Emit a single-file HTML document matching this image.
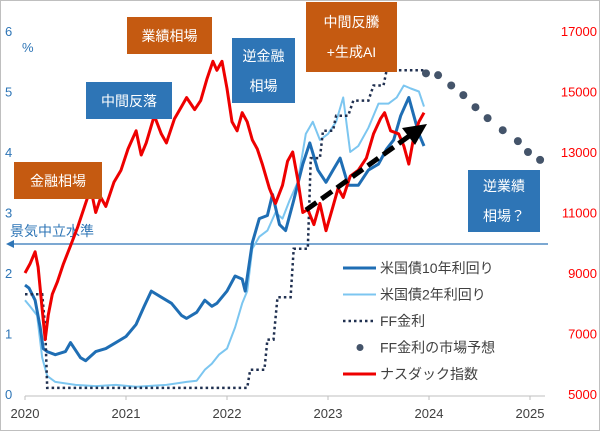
<!DOCTYPE html>
<html><head><meta charset="utf-8">
<style>
body{margin:0;background:#fff;}
#wrap{position:relative;width:600px;height:431px;overflow:hidden;font-family:"Liberation Sans","Noto Sans CJK JP",sans-serif;}
svg{position:absolute;left:0;top:0;}
.box{position:absolute;color:#fff;font-size:14px;display:flex;align-items:center;justify-content:center;text-align:center;line-height:30px;}
.or{background:#c55a11;}
.bl{background:#2e75b6;}
</style></head>
<body>
<div id="wrap">
<svg id="c" width="600" height="431"></svg>
<div class="box or" style="left:14px;top:162px;width:88px;height:37px">金融相場</div>
<div class="box bl" style="left:86px;top:82px;width:86px;height:37px">中間反落</div>
<div class="box or" style="left:127px;top:17px;width:85px;height:37px">業績相場</div>
<div class="box bl" style="left:232px;top:38px;width:63px;height:65px">逆金融<br>相場</div>
<div class="box or" style="left:306px;top:2px;width:91px;height:70px">中間反騰<br>+生成AI</div>
<div class="box bl" style="left:468px;top:170px;width:72px;height:62px">逆業績<br>相場？</div>
</div>
<script>
const yearTicks=[2020,2021,2022,2023,2024,2025];
const leftTicks=[0,1,2,3,4,5,6];
const rightTicks=[5000,7000,9000,11000,13000,15000,17000];
const tenT=[2020.0,2020.04,2020.1,2020.15,2020.18,2020.22,2020.3,2020.4,2020.45,2020.55,2020.6,2020.7,2020.8,2020.9,2021.0,2021.1,2021.18,2021.25,2021.35,2021.45,2021.55,2021.6,2021.7,2021.78,2021.85,2021.9,2022.0,2022.08,2022.15,2022.18,2022.25,2022.32,2022.4,2022.45,2022.52,2022.58,2022.66,2022.75,2022.82,2022.9,2022.98,2023.05,2023.12,2023.2,2023.3,2023.4,2023.5,2023.58,2023.65,2023.72,2023.8,2023.85,2023.9,2023.95];
const tenV=[1.8,1.75,1.55,1.1,0.75,0.7,0.65,0.7,0.85,0.6,0.55,0.7,0.75,0.85,0.95,1.15,1.45,1.7,1.6,1.5,1.3,1.25,1.35,1.55,1.45,1.5,1.7,1.95,1.9,1.7,2.5,2.9,2.95,3.3,2.8,2.7,3.2,3.8,4.15,3.7,3.5,3.7,3.9,3.45,3.45,3.7,3.8,4.05,4.2,4.6,4.9,4.6,4.3,4.1];
const twoT=[2020.0,2020.05,2020.12,2020.17,2020.22,2020.3,2020.5,2020.7,2020.9,2021.1,2021.4,2021.6,2021.7,2021.78,2021.85,2021.92,2022.0,2022.08,2022.15,2022.2,2022.25,2022.32,2022.4,2022.48,2022.55,2022.62,2022.7,2022.78,2022.85,2022.92,2023.0,2023.08,2023.15,2023.22,2023.3,2023.4,2023.5,2023.6,2023.68,2023.75,2023.82,2023.9,2023.95];
const twoV=[1.55,1.45,1.3,0.6,0.3,0.2,0.15,0.13,0.15,0.12,0.15,0.2,0.22,0.4,0.5,0.65,0.75,1.1,1.5,1.7,2.4,2.6,2.7,3.0,2.9,3.2,3.5,4.3,4.5,4.2,4.3,4.5,4.9,4.0,4.1,4.4,4.8,4.8,4.9,5.1,5.05,5.0,4.75];
const ffT=[2020.0,2020.17,2020.2,2020.22,2022.2,2022.23,2022.37,2022.4,2022.46,2022.5,2022.63,2022.66,2022.8,2022.83,2022.92,2022.95,2023.05,2023.08,2023.2,2023.25,2023.4,2023.45,2023.55,2023.58,2023.95];
const ffV=[1.65,1.65,1.1,0.1,0.1,0.4,0.4,0.9,0.9,1.6,1.6,2.4,2.4,3.9,3.9,4.35,4.35,4.6,4.6,4.85,4.85,5.1,5.1,5.35,5.35];
const fcT=[2023.97,2024.09,2024.22,2024.34,2024.46,2024.58,2024.73,2024.88,2024.98,2025.1];
const fcV=[5.3,5.27,5.1,4.94,4.74,4.56,4.36,4.18,4.0,3.87];
const ndT=[2020.0,2020.05,2020.1,2020.13,2020.17,2020.2,2020.23,2020.27,2020.32,2020.38,2020.45,2020.52,2020.6,2020.65,2020.7,2020.75,2020.8,2020.88,2020.95,2021.02,2021.1,2021.15,2021.2,2021.28,2021.35,2021.4,2021.48,2021.55,2021.6,2021.68,2021.74,2021.8,2021.86,2021.9,2021.95,2022.0,2022.05,2022.1,2022.15,2022.2,2022.25,2022.3,2022.35,2022.42,2022.48,2022.55,2022.6,2022.65,2022.7,2022.75,2022.8,2022.86,2022.92,2022.98,2023.05,2023.1,2023.15,2023.22,2023.3,2023.38,2023.45,2023.52,2023.56,2023.62,2023.7,2023.75,2023.8,2023.85,2023.9,2023.95];
const ndV=[9000,9300,9700,9200,7800,6800,7600,8300,8700,9300,9900,10500,11300,11800,11000,11500,11200,12000,12400,13100,13700,12900,13300,14200,13600,13300,14100,14500,14800,14400,14700,15400,16000,15700,16000,15100,14000,13700,14300,14000,13400,13100,12600,11800,11300,11900,12700,13000,12100,11000,11100,10600,11300,10400,11200,11800,11500,12200,12400,12800,13600,14100,14300,13700,13600,13200,12600,13500,14000,14300];
const svg=document.getElementById('c');
const NS='http://www.w3.org/2000/svg';
const X=t=>25+101*(t-2020);
const YL=v=>394-60.5*v;
const YR=v=>394-(v-5000)*60.5/2000;
function mk(tag,attrs,parent){const e=document.createElementNS(NS,tag);for(const k in attrs)e.setAttribute(k,attrs[k]);(parent||svg).appendChild(e);return e;}
// border
let b=mk('rect',{x:0.5,y:0.5,width:599,height:430,fill:'none',stroke:'#bfbfbf'});


// x axis
let ax=mk('line',{x1:25,y1:396,x2:545,y2:396,stroke:'#bfbfbf'});


yearTicks.forEach(y=>{
 const tk=mk('line',{x1:X(y),y1:396,x2:X(y),y2:400,stroke:'#bfbfbf'});
 
 
 const t=mk('text',{x:X(y),y:418,'text-anchor':'middle','font-size':13,fill:'#404040'});
 t.textContent=y;
 
 
});
leftTicks.forEach(v=>{
 const t=mk('text',{x:5,y:YL(v)+5,'font-size':13,fill:'#2e75b6'});
 t.textContent=v;
 
 
});
let pc=mk('text',{x:22,y:52,'font-size':13,fill:'#2e75b6'});pc.textContent='%';


rightTicks.forEach(v=>{
 const t=mk('text',{x:597,y:YR(v)+5,'text-anchor':'end','font-size':13,fill:'#ff0000'});
 t.textContent=v;
 
 
});
// neutral line
let nl=mk('line',{x1:10,y1:244,x2:548,y2:244,stroke:'#2e75b6','stroke-width':1.3});


let na=mk('path',{d:'M6 244 L14 240 L14 248 Z',fill:'#2e75b6'});


let nt=mk('text',{x:10,y:236,'font-size':14,fill:'#2e75b6'});nt.textContent='景気中立水準';


function pts(T,V,Y){return T.map((t,i)=>X(t).toFixed(1)+','+Y(V[i]).toFixed(1)).join(' ');}
let s2=mk('polyline',{points:pts(twoT,twoV,YL),fill:'none',stroke:'#7cc6f0','stroke-width':2,'stroke-linejoin':'round'});


let s10=mk('polyline',{points:pts(tenT,tenV,YL),fill:'none',stroke:'#1f6eb4','stroke-width':3,'stroke-linejoin':'round'});


let sff=mk('polyline',{points:pts(ffT,ffV,YL),fill:'none',stroke:'#203050','stroke-width':2.5,'stroke-dasharray':'2.5 3'});


let snd=mk('polyline',{points:pts(ndT,ndV,YR),fill:'none',stroke:'#ee0000','stroke-width':3,'stroke-linejoin':'round'});


fcT.forEach((t,i)=>{
 const d=mk('circle',{cx:X(t),cy:YL(fcV[i]),r:4,fill:'#44546a'});
 
 
});
// trend arrow
let ar=mk('line',{x1:306,y1:210,x2:412,y2:134,stroke:'#000','stroke-width':5,'stroke-dasharray':'13 6'});


let ah=mk('path',{d:'M427 124 L402 128 L415 145 Z',fill:'#000'});


// legend
const leg=[['米国債10年利回り','solid','#1f6eb4',3],['米国債2年利回り','solid','#7cc6f0',2],['FF金利','dot','#203050',2.5],['FF金利の市場予想','circle','#44546a',0],['ナスダック指数','solid','#ee0000',3]];
leg.forEach((l,i)=>{
 const y=268+26.5*i;
 const g=mk('g',{});
 
 
 if(l[1]==='circle')mk('circle',{cx:360,cy:y,r:3.5,fill:l[2]},g);
 else mk('line',{x1:343,y1:y,x2:376,y2:y,stroke:l[2],'stroke-width':l[3],'stroke-dasharray':l[1]==='dot'?'2.5 3':'none'},g);
 const t=mk('text',{x:380,y:y+5,'font-size':14,fill:'#404040'},g);t.textContent=l[0];
});
</script>
</body></html>
